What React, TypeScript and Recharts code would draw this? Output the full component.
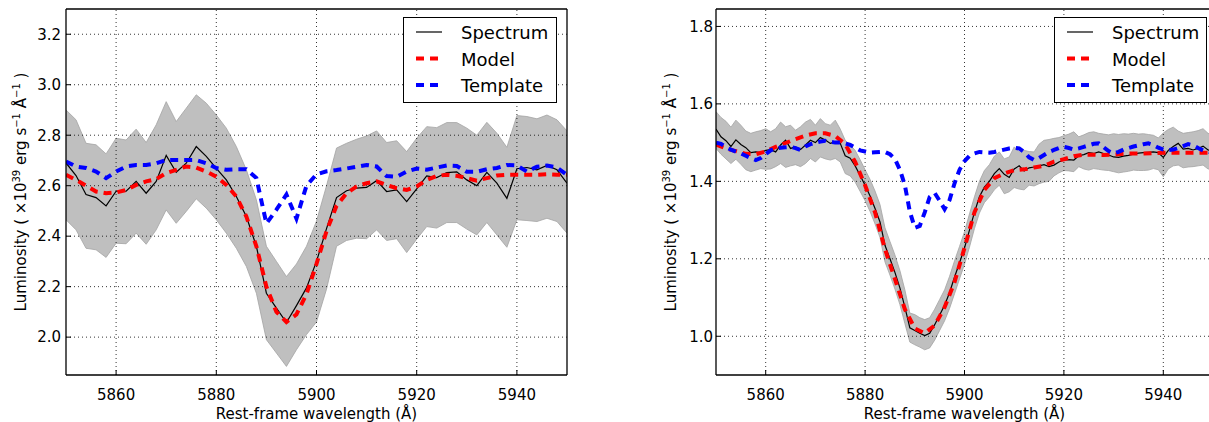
import React from 'react';
import { ComposedChart, Line, Area, XAxis, YAxis, ReferenceLine } from 'recharts';

// ---------- Left panel (2 Å sampling) ----------
const wavelengthsLeft = [
  5850, 5852, 5854, 5856, 5858, 5860, 5862, 5864, 5866, 5868, 5870, 5872, 5874, 5876, 5878, 5880, 5882,
  5884, 5886, 5888, 5890, 5892, 5894, 5896, 5898, 5900, 5902, 5904, 5906, 5908, 5910, 5912, 5914, 5916,
  5918, 5920, 5922, 5924, 5926, 5928, 5930, 5932, 5934, 5936, 5938, 5940, 5942, 5944, 5946, 5948, 5950,
];
const spectrumLeft = [
  2.69, 2.64, 2.565, 2.553, 2.52, 2.578, 2.578, 2.617, 2.57, 2.617, 2.72, 2.653, 2.689, 2.755, 2.716, 2.669, 2.623,
  2.557, 2.478, 2.36, 2.174, 2.115, 2.058, 2.125, 2.195, 2.3, 2.43, 2.553, 2.58, 2.59, 2.593, 2.62, 2.577, 2.583,
  2.537, 2.587, 2.639, 2.632, 2.652, 2.655, 2.623, 2.6, 2.653, 2.61, 2.55, 2.667, 2.672, 2.663, 2.68, 2.663, 2.61,
];
const bandHighLeft = [
  2.9, 2.861, 2.768, 2.762, 2.726, 2.788, 2.781, 2.824, 2.771, 2.841, 2.933, 2.854, 2.907, 2.96, 2.927, 2.88, 2.828,
  2.755, 2.663, 2.544, 2.36, 2.3, 2.24, 2.29, 2.36, 2.46, 2.6, 2.749, 2.768, 2.784, 2.797, 2.817, 2.771, 2.778,
  2.735, 2.788, 2.834, 2.83, 2.85, 2.85, 2.828, 2.8, 2.851, 2.808, 2.752, 2.878, 2.874, 2.865, 2.88, 2.861, 2.817,
];
const bandLowLeft = [
  2.465, 2.425, 2.352, 2.346, 2.316, 2.372, 2.37, 2.412, 2.368, 2.425, 2.504, 2.451, 2.498, 2.548, 2.511, 2.465, 2.412,
  2.352, 2.28, 2.174, 1.99, 1.937, 1.884, 1.95, 2.01, 2.06, 2.19, 2.36, 2.383, 2.392, 2.39, 2.425, 2.383, 2.39,
  2.335, 2.388, 2.438, 2.432, 2.454, 2.454, 2.428, 2.405, 2.454, 2.405, 2.356, 2.465, 2.462, 2.458, 2.471, 2.458, 2.412,
];
const modelLeft = [
  2.643, 2.623, 2.6, 2.577, 2.57, 2.573, 2.583, 2.603, 2.617, 2.626, 2.65, 2.663, 2.676, 2.672, 2.656, 2.636, 2.603,
  2.557, 2.478, 2.36, 2.2, 2.1, 2.06, 2.09, 2.17, 2.29, 2.42, 2.52, 2.57, 2.597, 2.61, 2.617, 2.603, 2.59,
  2.583, 2.597, 2.623, 2.639, 2.643, 2.639, 2.63, 2.62, 2.63, 2.64, 2.643, 2.643, 2.643, 2.643, 2.645, 2.643, 2.643,
];
const templateLeft = [
  2.696, 2.676, 2.67, 2.656, 2.63, 2.656, 2.676, 2.682, 2.682, 2.689, 2.702, 2.702, 2.702, 2.702, 2.689, 2.67, 2.663,
  2.665, 2.665, 2.63, 2.45, 2.505, 2.565, 2.47, 2.6, 2.645, 2.657, 2.662, 2.668, 2.675, 2.682, 2.676, 2.638, 2.635,
  2.656, 2.668, 2.663, 2.672, 2.68, 2.678, 2.655, 2.655, 2.665, 2.67, 2.682, 2.68, 2.656, 2.675, 2.68, 2.672, 2.643,
];

// ---------- Right panel (1 Å sampling; model at 2 Å) ----------
const wavelengthsRight = [
  5850, 5851, 5852, 5853, 5854, 5855, 5856, 5857, 5858, 5859,
  5860, 5861, 5862, 5863, 5864, 5865, 5866, 5867, 5868, 5869,
  5870, 5871, 5872, 5873, 5874, 5875, 5876, 5877, 5878, 5879,
  5880, 5881, 5882, 5883, 5884, 5885, 5886, 5887, 5888, 5889,
  5890, 5891, 5892, 5893, 5894, 5895, 5896, 5897, 5898, 5899,
  5900, 5901, 5902, 5903, 5904, 5905, 5906, 5907, 5908, 5909,
  5910, 5911, 5912, 5913, 5914, 5915, 5916, 5917, 5918, 5919,
  5920, 5921, 5922, 5923, 5924, 5925, 5926, 5927, 5928, 5929,
  5930, 5931, 5932, 5933, 5934, 5935, 5936, 5937, 5938, 5939,
  5940, 5941, 5942, 5943, 5944, 5945, 5946, 5947, 5948, 5949,
  5950,
];
const spectrumRight = [
  1.535, 1.515, 1.505, 1.49, 1.507, 1.495, 1.487, 1.474, 1.476, 1.474,
  1.48, 1.482, 1.476, 1.494, 1.506, 1.485, 1.489, 1.482, 1.494, 1.506,
  1.5, 1.513, 1.507, 1.498, 1.502, 1.498, 1.466, 1.46, 1.44, 1.415,
  1.39, 1.362, 1.33, 1.295, 1.235, 1.2, 1.165, 1.125, 1.075, 1.022,
  1.015, 1.008, 1.002, 1.008, 1.03, 1.055, 1.08, 1.113, 1.153, 1.19,
  1.228, 1.274, 1.32, 1.36, 1.385, 1.4, 1.42, 1.433, 1.418, 1.41,
  1.432, 1.44, 1.427, 1.435, 1.437, 1.44, 1.443, 1.438, 1.442, 1.45,
  1.455, 1.456, 1.455, 1.466, 1.469, 1.474, 1.472, 1.476, 1.472, 1.468,
  1.463, 1.462, 1.465, 1.467, 1.47, 1.473, 1.474, 1.475, 1.476, 1.474,
  1.462, 1.48, 1.49, 1.498, 1.483, 1.485, 1.481, 1.485, 1.491, 1.481,
  1.478,
];
const bandHighRight = [
  1.58, 1.565, 1.555, 1.54, 1.558, 1.545, 1.53, 1.524, 1.528, 1.531,
  1.536, 1.528, 1.536, 1.553, 1.541, 1.545, 1.532, 1.541, 1.553, 1.56,
  1.545, 1.562, 1.549, 1.545, 1.558, 1.535, 1.506, 1.494, 1.48, 1.456,
  1.43, 1.405, 1.375, 1.34, 1.28, 1.245, 1.21, 1.17, 1.12, 1.06,
  1.056, 1.048, 1.043, 1.048, 1.07, 1.095, 1.12, 1.155, 1.195, 1.232,
  1.27, 1.316, 1.36, 1.4, 1.428, 1.443, 1.465, 1.476, 1.458, 1.463,
  1.489, 1.476, 1.48, 1.477, 1.476, 1.496, 1.506, 1.508, 1.511, 1.513,
  1.518, 1.522, 1.528, 1.515, 1.52, 1.526, 1.528, 1.524, 1.522, 1.52,
  1.523, 1.521, 1.523, 1.522, 1.524, 1.522, 1.523, 1.521, 1.519, 1.512,
  1.525, 1.534, 1.54, 1.53, 1.524, 1.526, 1.528, 1.531, 1.536, 1.524,
  1.52,
];
const bandLowRight = [
  1.485, 1.47, 1.458, 1.446, 1.457, 1.444, 1.43, 1.425, 1.429, 1.433,
  1.431, 1.432, 1.438, 1.446, 1.436, 1.44, 1.443, 1.438, 1.446, 1.459,
  1.45, 1.463, 1.458, 1.455, 1.459, 1.45, 1.42, 1.414, 1.398, 1.374,
  1.35, 1.322, 1.29, 1.255, 1.192, 1.158, 1.122, 1.082, 1.033, 0.985,
  0.978, 0.972, 0.965, 0.97, 0.99, 1.015, 1.04, 1.072, 1.11, 1.148,
  1.186, 1.23, 1.278, 1.318, 1.345, 1.36, 1.378, 1.39, 1.368, 1.373,
  1.384, 1.38, 1.378, 1.39, 1.388, 1.394, 1.398, 1.4, 1.414, 1.422,
  1.428, 1.427, 1.425, 1.438, 1.432, 1.429, 1.433, 1.431, 1.429, 1.428,
  1.425, 1.422, 1.424, 1.426, 1.429, 1.428, 1.428, 1.429, 1.433, 1.43,
  1.412, 1.432, 1.44, 1.442, 1.435, 1.437, 1.438, 1.44, 1.442, 1.432,
  1.43,
];
const templateRight = [
  1.5, 1.497, 1.488, 1.482, 1.477, 1.472, 1.466, 1.46, 1.455, 1.46,
  1.47, 1.48, 1.485, 1.487, 1.488, 1.489, 1.486, 1.481, 1.49, 1.496,
  1.5, 1.503, 1.505, 1.502, 1.5, 1.5, 1.498, 1.494, 1.487, 1.48,
  1.477, 1.474, 1.475, 1.476, 1.476, 1.47, 1.458, 1.43, 1.39, 1.322,
  1.28, 1.285, 1.32, 1.36, 1.37, 1.35, 1.328, 1.352, 1.395, 1.43,
  1.452, 1.466, 1.472, 1.476, 1.475, 1.474, 1.476, 1.479, 1.482, 1.485,
  1.487, 1.485, 1.476, 1.462, 1.455, 1.46, 1.468, 1.476, 1.481, 1.486,
  1.489, 1.486, 1.482, 1.485, 1.489, 1.493, 1.497, 1.498, 1.488, 1.478,
  1.472, 1.476, 1.482, 1.486, 1.49, 1.493, 1.496, 1.498, 1.494, 1.487,
  1.482, 1.481, 1.482, 1.486, 1.491, 1.496, 1.493, 1.486, 1.48, 1.476,
  1.474,
];
const modelRightWavelengths = wavelengthsLeft;
const modelRight = [
  1.495, 1.485, 1.478, 1.471, 1.47, 1.477, 1.489, 1.499, 1.509, 1.518,
  1.524, 1.524, 1.517, 1.496, 1.45, 1.39, 1.32, 1.225, 1.148, 1.07,
  1.02, 1.008, 1.028, 1.075, 1.14, 1.228, 1.32, 1.378, 1.408, 1.42,
  1.429, 1.431, 1.436, 1.44, 1.451, 1.457, 1.465, 1.469, 1.469, 1.468,
  1.469, 1.471, 1.472, 1.472, 1.473, 1.474, 1.474, 1.474, 1.474, 1.474,
  1.474,
];

// ---------- Ticks ----------
const xTicks = [5860, 5880, 5900, 5920, 5940];
const yTicksLeft = [2.0, 2.2, 2.4, 2.6, 2.8, 3.0, 3.2];
const yTicksRight = [1.0, 1.2, 1.4, 1.6, 1.8];
const xDomain: [number, number] = [5850, 5950];
const yDomainLeft: [number, number] = [1.85, 3.3];
const yDomainRight: [number, number] = [0.9, 1.845];

const legendItems = [
  { name: 'Spectrum', color: '#000000', width: 1.2, dash: undefined as string | undefined },
  { name: 'Model', color: '#ff0000', width: 4, dash: '8 6' },
  { name: 'Template', color: '#0000ff', width: 4, dash: '8 6' },
];

const leftRows = wavelengthsLeft.map((w, i) => ({
  w,
  spec: spectrumLeft[i],
  band: [bandLowLeft[i], bandHighLeft[i]],
  model: modelLeft[i],
  templ: templateLeft[i],
}));

const rightRows = wavelengthsRight.map((w, i) => {
  const j = modelRightWavelengths.indexOf(w);
  return {
    w,
    spec: spectrumRight[i],
    band: [bandLowRight[i], bandHighRight[i]],
    model: j >= 0 ? modelRight[j] : null,
    templ: templateRight[i],
  };
});

const FONT = 'DejaVu Sans';
const tickStyle = { fill: '#000', fontSize: 15, fontFamily: FONT };
const frame = { stroke: '#000', strokeWidth: 1.3 };
const tickMark = { stroke: '#000', strokeWidth: 1 };

const YLabel = (props: any) => {
  const vb = props.viewBox || { x: 0, y: 0, width: 0, height: 0 };
  const cx = vb.x + 26;
  const cy = vb.y + vb.height / 2;
  return (
    <text
      x={cx}
      y={cy}
      transform={`rotate(-90 ${cx} ${cy})`}
      textAnchor="middle"
      fontFamily={FONT}
      fontSize={15}
      fill="#000"
    >
      <tspan>Luminosity ( ×10</tspan>
      <tspan dy={-6} fontSize={10}>39</tspan>
      <tspan dy={6}> erg s</tspan>
      <tspan dy={-6} fontSize={10}>−1</tspan>
      <tspan dy={6}>  Å</tspan>
      <tspan dy={-6} fontSize={10}>−1</tspan>
      <tspan dy={6}> )</tspan>
    </text>
  );
};

const XLabel = (props: any) => {
  const vb = props.viewBox || { x: 0, y: 0, width: 0, height: 0 };
  return (
    <text x={vb.x + vb.width / 2} y={vb.y + 44} textAnchor="middle" fontFamily={FONT} fontSize={15} fill="#000">
      Rest-frame wavelength (Å)
    </text>
  );
};

type PanelProps = {
  rows: any[];
  width: number;
  marginRight: number;
  yDomain: [number, number];
  yTicks: number[];
  yTickMargin: number;
};

const Panel = ({ rows, width, marginRight, yDomain, yTicks, yTickMargin }: PanelProps) => (
  <ComposedChart width={width} height={422} data={rows} margin={{ top: 8, right: marginRight, bottom: 0, left: 0 }}>
    <XAxis
      dataKey="w"
      type="number"
      domain={xDomain}
      ticks={xTicks}
      allowDataOverflow
      height={47}
      tickSize={-5}
      tickMargin={19}
      tick={tickStyle}
      axisLine={frame}
      tickLine={tickMark}
      label={{ content: XLabel }}
    />
    <XAxis
      xAxisId="top"
      orientation="top"
      dataKey="w"
      type="number"
      domain={xDomain}
      ticks={xTicks}
      allowDataOverflow
      height={1}
      tickSize={-5}
      tick={false}
      axisLine={frame}
      tickLine={tickMark}
    />
    <YAxis
      type="number"
      domain={yDomain}
      ticks={yTicks}
      allowDataOverflow
      width={66}
      tickSize={-5}
      tickMargin={yTickMargin}
      tick={tickStyle}
      tickFormatter={(v: number) => v.toFixed(1)}
      axisLine={frame}
      tickLine={tickMark}
      label={{ content: YLabel }}
    />
    <YAxis
      yAxisId="right"
      orientation="right"
      type="number"
      domain={yDomain}
      ticks={yTicks}
      allowDataOverflow
      width={1}
      tickSize={-5}
      tick={false}
      axisLine={frame}
      tickLine={tickMark}
    />
    <Area
      dataKey="band"
      type="linear"
      stroke="#a3a3a3"
      strokeWidth={0.8}
      fill="#bfbfbf"
      fillOpacity={1}
      isAnimationActive={false}
      dot={false}
      activeDot={false}
    />
    {xTicks.map((t) => (
      <ReferenceLine key={'gx' + t} x={t} stroke="#000" strokeWidth={0.8} strokeDasharray="1 3" />
    ))}
    {yTicks.map((t) => (
      <ReferenceLine key={'gy' + t} y={t} stroke="#000" strokeWidth={0.8} strokeDasharray="1 3" />
    ))}
    {/* invisible series bound to the mirrored top/right axes */}
    <Line
      xAxisId="top"
      yAxisId="right"
      dataKey="spec"
      stroke="#000"
      strokeOpacity={0}
      legendType="none"
      dot={false}
      activeDot={false}
      isAnimationActive={false}
    />
    <Line
      dataKey="spec"
      type="linear"
      stroke="#000"
      strokeWidth={1.2}
      dot={false}
      activeDot={false}
      isAnimationActive={false}
    />
    <Line
      dataKey="model"
      type="linear"
      stroke="#ff0000"
      strokeWidth={4}
      strokeDasharray="8 6"
      connectNulls
      dot={false}
      activeDot={false}
      isAnimationActive={false}
    />
    <Line
      dataKey="templ"
      type="linear"
      stroke="#0000ff"
      strokeWidth={4}
      strokeDasharray="8 6"
      dot={false}
      activeDot={false}
      isAnimationActive={false}
    />
  </ComposedChart>
);

const LegendBox = ({ left, width }: { left: number; width: number }) => (
  <svg width={width} height={86} style={{ position: 'absolute', left, top: 17 }}>
    <rect x={0.5} y={0.5} width={width - 1} height={85} fill="#fff" stroke="#000" strokeWidth={1} />
    {legendItems.map((it, i) => (
      <g key={it.name}>
        <line
          x1={13}
          x2={39}
          y1={15 + i * 26.5}
          y2={15 + i * 26.5}
          stroke={it.color}
          strokeWidth={it.width}
          strokeDasharray={it.dash}
        />
        <text x={58} y={22 + i * 26.5} fontFamily={FONT} fontSize={18} fill="#000">
          {it.name}
        </text>
      </g>
    ))}
  </svg>
);

export default function App() {
  return (
    <div
      style={{
        position: 'absolute',
        left: 0,
        top: 0,
        width: 1209,
        height: 422,
        overflow: 'hidden',
        background: '#fff',
        fontFamily: FONT,
      }}
    >
      <div style={{ position: 'absolute', left: 0, top: 0 }}>
        <Panel rows={leftRows} width={600} marginRight={32} yDomain={yDomainLeft} yTicks={yTicksLeft} yTickMargin={10} />
      </div>
      <div style={{ position: 'absolute', left: 650, top: 0 }}>
        <Panel rows={rightRows} width={570} marginRight={6} yDomain={yDomainRight} yTicks={yTicksRight} yTickMargin={8} />
      </div>
      <LegendBox left={403} width={154} />
      <LegendBox left={1054} width={153} />
    </div>
  );
}
